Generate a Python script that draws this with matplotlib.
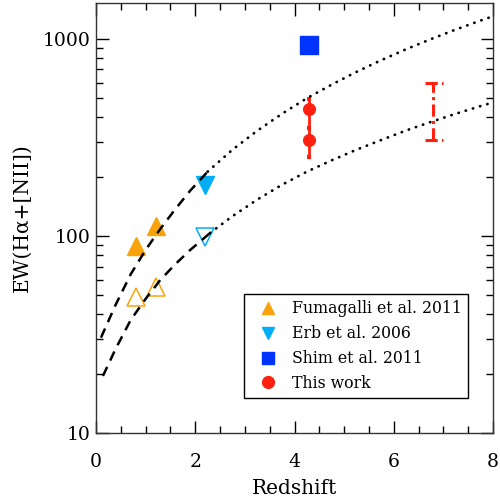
import matplotlib
matplotlib.use("Agg")
import matplotlib.pyplot as plt
from matplotlib.ticker import MultipleLocator, LogLocator, NullFormatter, FixedLocator, FixedFormatter

# ---- data ----
fum_z_filled = [0.8, 1.2]
fum_ew_filled = [89, 112]
fum_z_open = [0.8, 1.2]
fum_ew_open = [49, 55]
erb_z_filled = [2.2]
erb_ew_filled = [181]
erb_z_open = [2.2]
erb_ew_open = [99]
shim_z = [4.3]
shim_ew = [930]
this_z = [4.3, 4.3]
this_ew = [440, 307]
this_err_lo = [85, 54]
this_err_hi = [58, 48]
range_z = 6.8
range_lo = 307
range_hi = 595
range_cap_left = 6.63
range_cap_right = 6.99

upper_dash_z = [0.1, 0.4, 0.7, 1.0, 1.3, 1.6, 1.9, 2.25]
upper_dash_ew = [30.5, 45, 64, 85, 109, 137, 170, 212]
upper_dot_z = [2.25, 2.75, 3.25, 3.75, 4.25, 4.75, 5.25, 5.75, 6.25, 6.75, 7.25, 7.75, 8.0]
upper_dot_ew = [212, 274, 342, 417, 500, 586, 680, 780, 886, 997, 1115, 1238, 1302]
lower_dash_z = [0.14, 0.4, 0.7, 1.0, 1.3, 1.6, 1.9, 2.3]
lower_dash_ew = [19.5, 26.9, 37.5, 48, 60, 72, 85, 103.6]
lower_dot_z = [2.3, 2.75, 3.25, 3.75, 4.25, 4.75, 5.25, 5.75, 6.25, 6.75, 7.25, 7.75, 8.0]
lower_dot_ew = [103.6, 126, 153, 182, 212, 242, 274, 307, 343, 379, 417, 456, 476]

orange = "#f9a30a"
cyan = "#00aef5"
blue = "#0033ff"
red = "#ff2010"

plt.rcParams['font.family'] = ['DejaVu Serif']

fig = plt.figure(figsize=(5.0, 4.99), dpi=100)
ax = fig.add_axes([0.192, 0.132, 0.794, 0.862])

dash = (0, (4, 2.8))
dot = (0, (0.1, 2.6))
ax.plot(upper_dash_z, upper_dash_ew, color='black', lw=1.8, ls=dash, zorder=4)
ax.plot(lower_dash_z, lower_dash_ew, color='black', lw=1.8, ls=dash, zorder=4)
ax.plot(upper_dot_z, upper_dot_ew, color='black', lw=2.0, ls=dot, dash_capstyle='round', zorder=4)
ax.plot(lower_dot_z, lower_dot_ew, color='black', lw=2.0, ls=dot, dash_capstyle='round', zorder=4)

ax.plot(fum_z_filled, fum_ew_filled, ls='none', marker='^', ms=12.5, color=orange, mec=orange, zorder=3)
ax.plot(fum_z_open, fum_ew_open, ls='none', marker='^', ms=12.5, mfc='none', mec=orange, mew=1.1, zorder=3)
ax.plot(erb_z_filled, erb_ew_filled, ls='none', marker='v', ms=12.5, color=cyan, mec=cyan, zorder=3)
ax.plot(erb_z_open, erb_ew_open, ls='none', marker='v', ms=12.5, mfc='none', mec=cyan, mew=1.1, zorder=3)
ax.plot(shim_z, shim_ew, ls='none', marker='s', ms=13.5, color=blue, zorder=3)
ax.errorbar(this_z, this_ew, yerr=[this_err_lo, this_err_hi], fmt='o', ms=8.4,
            color=red, ecolor=red, elinewidth=2.0, capsize=1.5, capthick=3, zorder=3)

ax.vlines([range_z], [range_lo], [range_hi], colors=red, linestyles=(0, (4, 1.4, 1, 1.4)), lw=2.2)
ax.hlines([range_lo, range_hi], range_cap_left, range_cap_right,
          colors=red, linestyles=(0, (4, 1.4, 1, 1.4)), lw=2.2)

# legend handles
h1, = ax.plot([], [], ls='none', marker='^', ms=8.5, color=orange)
h2, = ax.plot([], [], ls='none', marker='v', ms=8.5, color=cyan)
h3, = ax.plot([], [], ls='none', marker='s', ms=8.5, color=blue)
h4, = ax.plot([], [], ls='none', marker='o', ms=8.5, color=red)
leg = ax.legend([h1, h2, h3, h4],
                ["Fumagalli et al. 2011", "Erb et al. 2006", "Shim et al. 2011", "This work"],
                loc='lower right', bbox_to_anchor=(0.937, 0.0814), borderaxespad=0,
                fontsize=11.3, frameon=True, fancybox=False, edgecolor='black', framealpha=1,
                handletextpad=0.45, borderpad=0.4, labelspacing=0.5, handlelength=2.2)
leg.get_frame().set_linewidth(1.0)
leg.set_zorder(5)

ax.set_yscale('log')
ax.set_xlim(0, 8)
ax.set_ylim(10, 1520)
ax.xaxis.set_major_locator(MultipleLocator(2))
ax.xaxis.set_minor_locator(MultipleLocator(0.5))
ax.yaxis.set_major_locator(FixedLocator([10, 100, 1000]))
ax.yaxis.set_major_formatter(FixedFormatter(['10', '100', '1000']))
ax.yaxis.set_minor_locator(LogLocator(base=10, subs=range(2, 10)))
ax.yaxis.set_minor_formatter(NullFormatter())
ax.tick_params(which='both', direction='in', top=True, right=True, labelsize=13.5, colors='black')
ax.tick_params(which='major', length=9, width=1)
ax.tick_params(which='minor', length=5, width=1)
ax.tick_params(axis='x', pad=14)
ax.tick_params(axis='y', pad=4)
for s in ax.spines.values():
    s.set_linewidth(1.0)
    s.set_color('#333333')

ax.set_xlabel('Redshift', fontsize=14.5, labelpad=6)
ax.set_ylabel('EW(Hα+[NII])', fontsize=14.5, labelpad=8)

fig.savefig('out.png', dpi=100)
